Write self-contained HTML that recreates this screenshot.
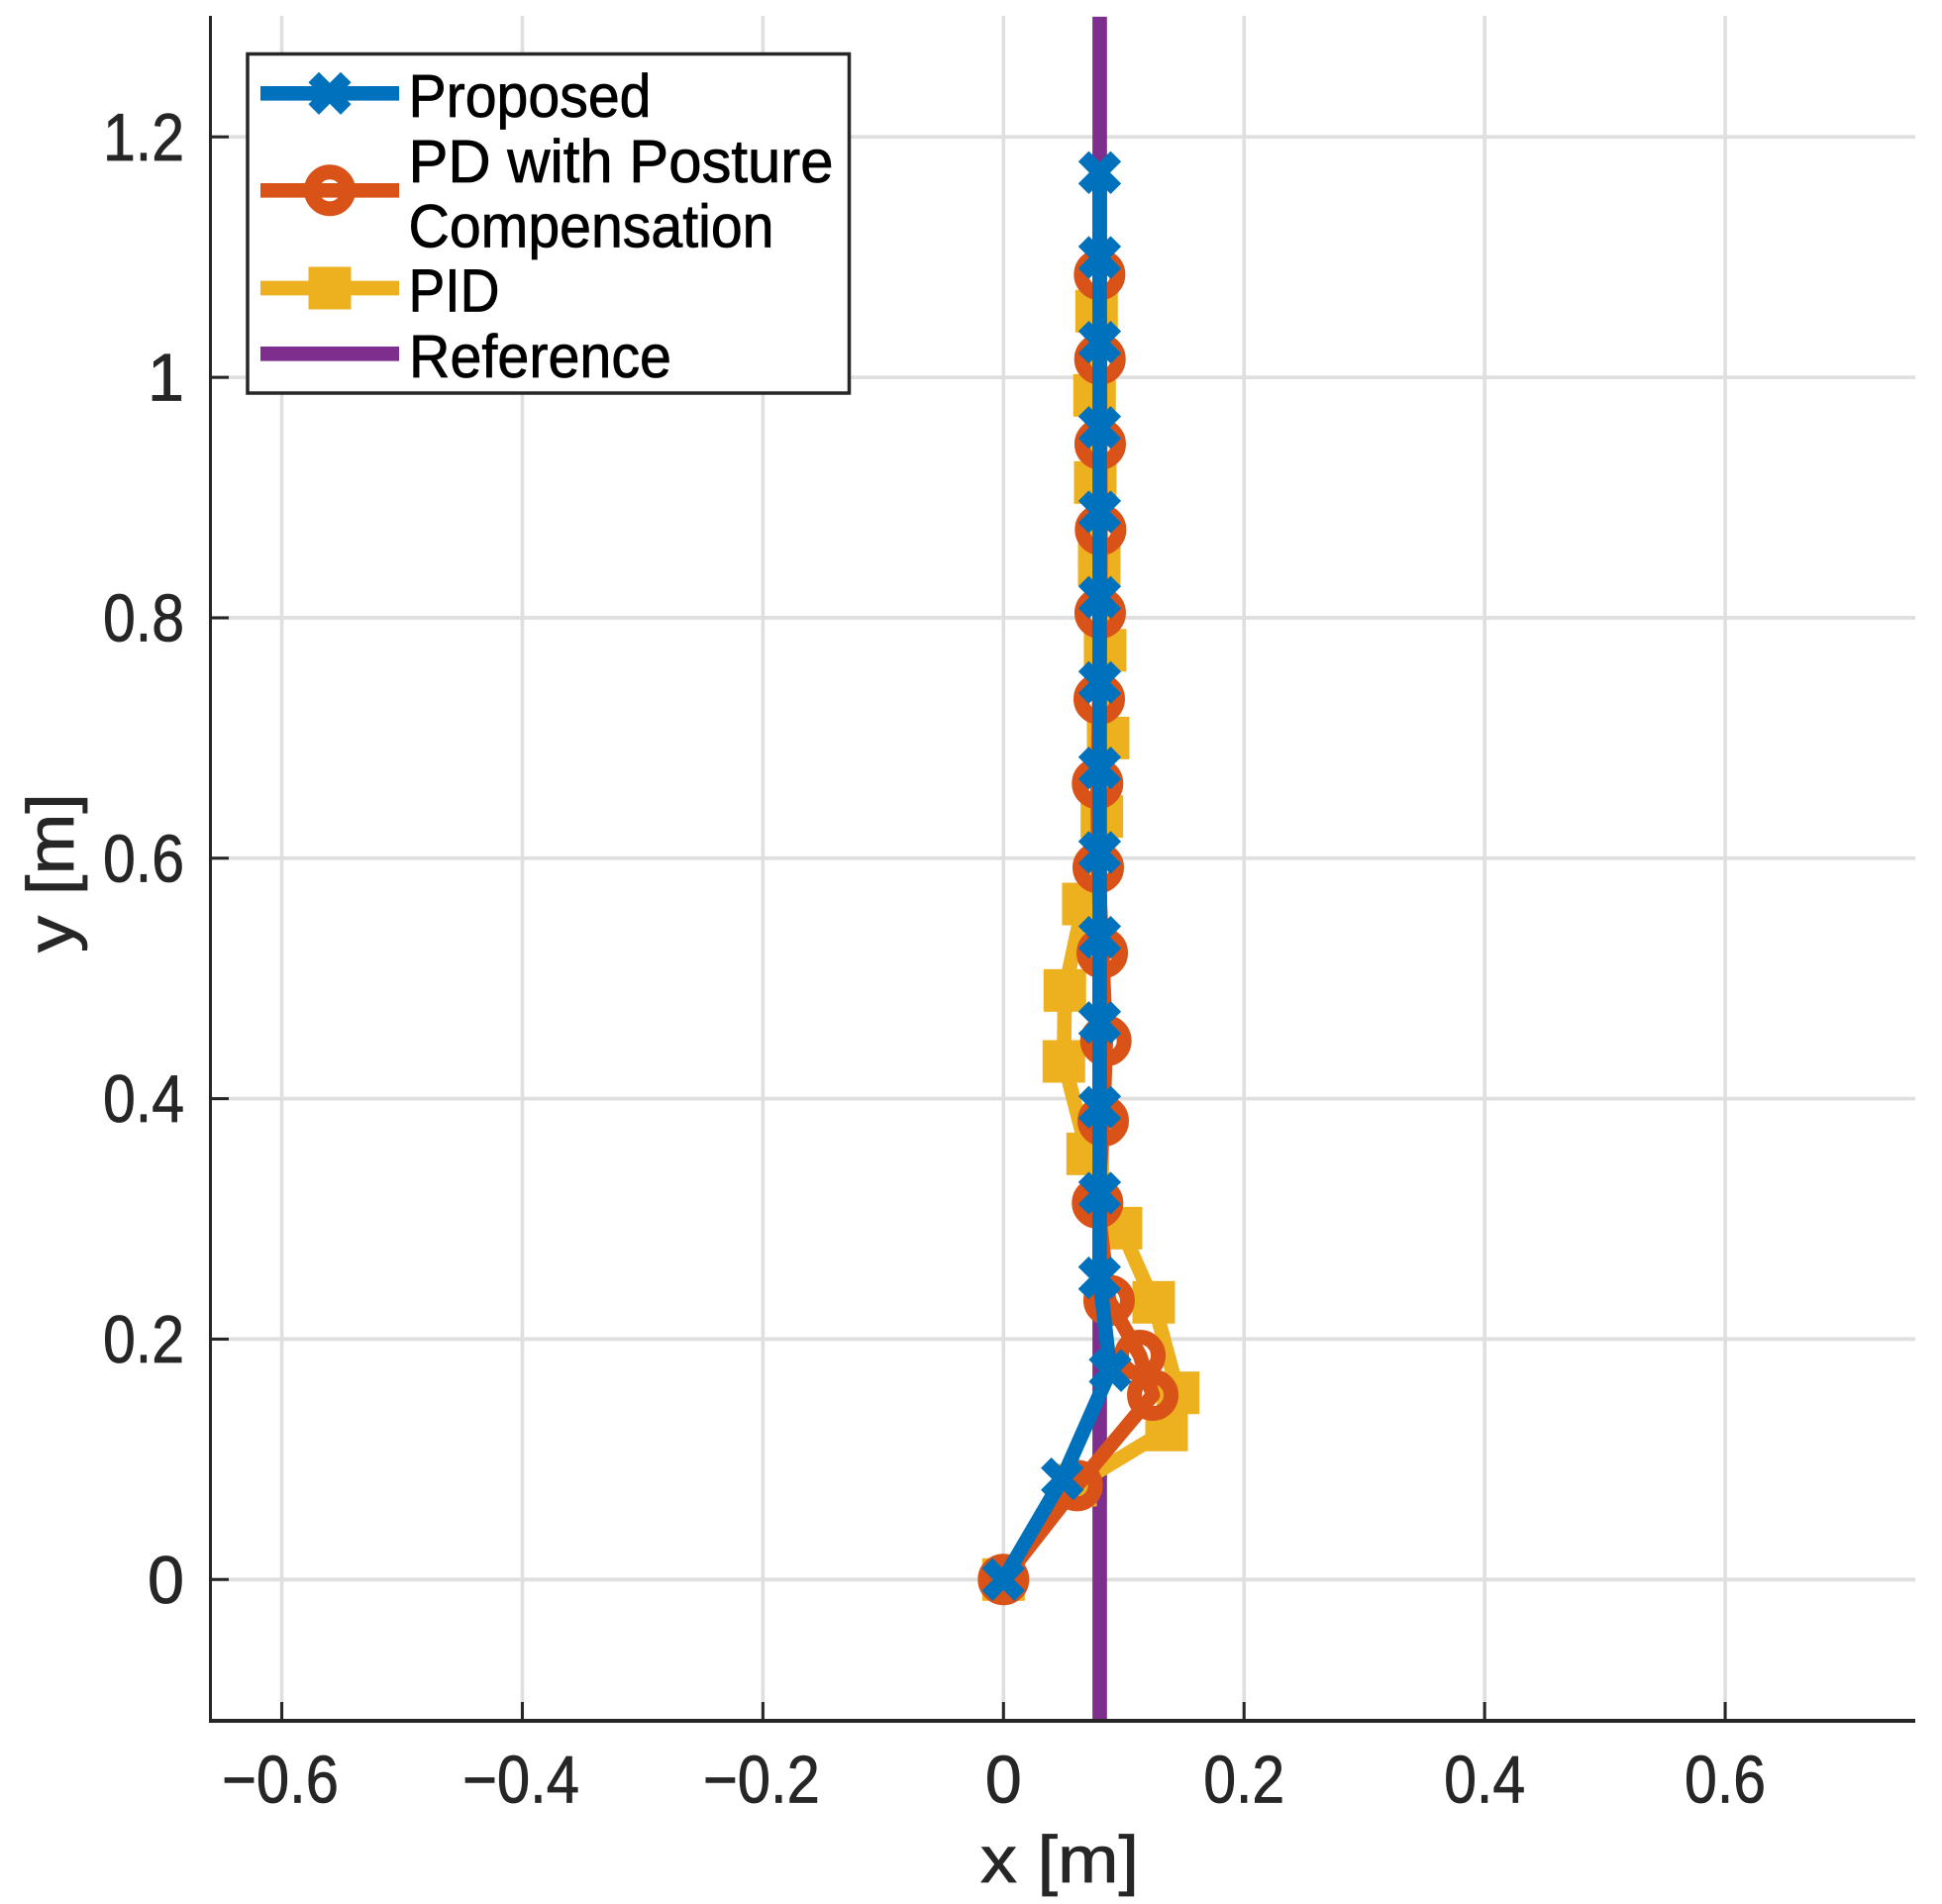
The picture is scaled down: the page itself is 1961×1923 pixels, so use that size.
<!DOCTYPE html>
<html lang="en">
<head>
<meta charset="utf-8">
<title>Trajectory comparison chart</title>
<style>
html,body{margin:0;padding:0;background:#fff;}
svg{display:block;}
text{font-family:"Liberation Sans",sans-serif;}
</style>
</head>
<body>
<svg id="chart" xmlns="http://www.w3.org/2000/svg" width="1961" height="1923" viewBox="0 0 1961 1923">
  <rect x="0" y="0" width="1961" height="1923" fill="#fff"/>
  <g id="grid"></g>
  <g id="series"></g>
  <g id="axes">
    <rect x="211" y="16" width="3" height="1724" fill="#262626"/>
    <rect x="211" y="1736" width="1723" height="4" fill="#262626"/>
  </g>
  <g id="ticks"></g>
  <text x="990" y="1901" font-size="67" fill="#262626" stroke="#262626" stroke-width="0.8" textLength="160" lengthAdjust="spacingAndGlyphs">x [m]</text>
  <text transform="translate(74,962) rotate(-90)" x="0" y="0" font-size="67" fill="#262626" stroke="#262626" stroke-width="0.8" textLength="161" lengthAdjust="spacingAndGlyphs">y [m]</text>
  <g id="legend">
    <rect x="250" y="54.5" width="607.5" height="342.5" fill="#fff" stroke="#262626" stroke-width="3.5"/>
    <g>
      <line x1="263" x2="403" y1="94.3" y2="94.3" stroke="#0072BD" stroke-width="14.7"/>
      <path d="M316.7 78 L349.3 110.6 M349.3 78 L316.7 110.6" stroke="#0072BD" stroke-width="15" fill="none"/>
      <text x="412.5" y="118" font-size="61" fill="#000" stroke="#000" stroke-width="0.8" textLength="245" lengthAdjust="spacingAndGlyphs">Proposed</text>
    </g>
    <g>
      <line x1="263" x2="403" y1="192.3" y2="192.3" stroke="#D95319" stroke-width="14.7"/>
      <circle cx="333" cy="192.3" r="18.5" stroke="#D95319" stroke-width="15" fill="none"/>
      <text x="412.5" y="184" font-size="61" fill="#000" stroke="#000" stroke-width="0.8" textLength="429" lengthAdjust="spacingAndGlyphs">PD with Posture</text>
      <text x="412.5" y="249.5" font-size="61" fill="#000" stroke="#000" stroke-width="0.8" textLength="369" lengthAdjust="spacingAndGlyphs">Compensation</text>
    </g>
    <g>
      <line x1="263" x2="403" y1="291" y2="291" stroke="#EDB120" stroke-width="14.7"/>
      <rect x="311.5" y="269.5" width="43" height="43" fill="#EDB120"/>
      <text x="412.5" y="314.5" font-size="61" fill="#000" stroke="#000" stroke-width="0.8" textLength="92" lengthAdjust="spacingAndGlyphs">PID</text>
    </g>
    <g>
      <line x1="263" x2="403" y1="357.3" y2="357.3" stroke="#7E2F8E" stroke-width="14.7"/>
      <text x="413" y="381" font-size="61" fill="#000" stroke="#000" stroke-width="0.8" textLength="265" lengthAdjust="spacingAndGlyphs">Reference</text>
    </g>
  </g>
</svg>
<script>
const xTicks = [-0.6, -0.4, -0.2, 0, 0.2, 0.4, 0.6];
const yTicks = [0, 0.2, 0.4, 0.6, 0.8, 1, 1.2];
const xTickLabels = ['\u22120.6', '\u22120.4', '\u22120.2', '0', '0.2', '0.4', '0.6'];
const yTickLabels = ['0', '0.2', '0.4', '0.6', '0.8', '1', '1.2'];

const referenceX = [0.08, 0.08];
const referenceY = [-0.12, 1.3];

const proposedX = [0, 0.0489, 0.0887, 0.0799, 0.08, 0.08, 0.08, 0.08, 0.08, 0.08, 0.08, 0.08, 0.08, 0.08, 0.08, 0.08, 0.08];
const proposedY = [0, 0.0837, 0.1738, 0.2509, 0.3214, 0.3929, 0.4633, 0.5342, 0.6048, 0.6750, 0.7462, 0.8170, 0.8881, 0.9583, 1.0292, 1.0997, 1.1703];

const pdX = [0, 0.0612, 0.1241, 0.1134, 0.0878, 0.0782, 0.0829, 0.0851, 0.0821, 0.0788, 0.0782, 0.0796, 0.0804, 0.0807, 0.0804, 0.0802, 0.0799];
const pdY = [0, 0.0782, 0.1534, 0.1864, 0.2322, 0.3132, 0.3815, 0.4482, 0.5213, 0.5922, 0.6622, 0.7325, 0.8040, 0.8733, 0.9445, 1.0152, 1.0855];

const pidX = [0, 0.0599, 0.1356, 0.1452, 0.1249, 0.0977, 0.0700, 0.0502, 0.0510, 0.0664, 0.0818, 0.0870, 0.0845, 0.0796, 0.0763, 0.0757, 0.0774];
const pidY = [0, 0.0785, 0.1244, 0.1553, 0.2306, 0.2923, 0.3541, 0.4310, 0.4900, 0.5619, 0.6347, 0.7000, 0.7730, 0.8444, 0.9125, 0.9850, 1.0550];

const NS = 'http://www.w3.org/2000/svg';
const PLOT_LEFT = 212.5, PLOT_RIGHT = 1934, PLOT_TOP = 16, PLOT_BOTTOM = 1736;
function sx(v) { return 1013.3 + 1214.6 * v; }
function sy(v) { return 1595.3 - 1214.2 * v; }
function clampY(p) { return Math.min(PLOT_BOTTOM, Math.max(PLOT_TOP, p)); }

function make(tag, parent, attrs) {
  const el = document.createElementNS(NS, tag);
  for (const k in attrs) el.setAttribute(k, attrs[k]);
  parent.appendChild(el);
  return el;
}

const gridG = document.getElementById('grid');
const ticksG = document.getElementById('ticks');
const seriesG = document.getElementById('series');

xTicks.forEach(function (t, i) {
  const px = sx(t);
  const g = make('line', gridG, { x1: px, x2: px, y1: PLOT_TOP, y2: PLOT_BOTTOM, stroke: '#dfdfdf', 'stroke-width': 3.6 });
  
  
  const m = make('line', ticksG, { x1: px, x2: px, y1: 1719, y2: 1737, stroke: '#262626', 'stroke-width': 3 });
  
  
  const label = xTickLabels[i];
  const w = label.length === 1 ? 37 : (label.charAt(0) === '\u2212' ? 118 : 82);
  const tx = make('text', ticksG, { x: px + (label.charAt(0) === '\u2212' ? -1.5 : 0), y: 1820.5, 'font-size': 68, fill: '#262626', stroke: '#262626', 'stroke-width': 0.8, 'text-anchor': 'middle', textLength: w, lengthAdjust: 'spacingAndGlyphs' });
  tx.textContent = label;
  
  
});

yTicks.forEach(function (t, i) {
  const py = sy(t);
  const g = make('line', gridG, { x1: PLOT_LEFT, x2: PLOT_RIGHT, y1: py, y2: py, stroke: '#dfdfdf', 'stroke-width': 3.8 });
  
  
  const m = make('line', ticksG, { x1: 212, x2: 231, y1: py, y2: py, stroke: '#262626', 'stroke-width': 3 });
  
  
  const label = yTickLabels[i];
  const w = label.length === 1 ? 37 : 82;
  const tx = make('text', ticksG, { x: 186, y: py + 23.5, 'font-size': 68, fill: '#262626', stroke: '#262626', 'stroke-width': 0.8, 'text-anchor': 'end', textLength: w, lengthAdjust: 'spacingAndGlyphs' });
  tx.textContent = label;
  
  
});

function polyPoints(xs, ys) {
  return xs.map(function (x, i) { return sx(x) + ',' + clampY(sy(ys[i])); }).join(' ');
}

const refLine = make('polyline', seriesG, { points: polyPoints(referenceX, referenceY), fill: 'none', stroke: '#7E2F8E', 'stroke-width': 14.7 });



const pidG = make('g', seriesG, {});


const pidLine = make('polyline', pidG, { points: polyPoints(pidX, pidY), fill: 'none', stroke: '#EDB120', 'stroke-width': 14.7, 'stroke-linejoin': 'round' });


pidX.forEach(function (x, i) {
  const r = make('rect', pidG, { x: sx(x) - 21.5, y: sy(pidY[i]) - 21.5, width: 43, height: 43, fill: '#EDB120' });
  
  
});

const pdG = make('g', seriesG, {});


const pdLine = make('polyline', pdG, { points: polyPoints(pdX, pdY), fill: 'none', stroke: '#D95319', 'stroke-width': 14.7, 'stroke-linejoin': 'round' });


pdX.forEach(function (x, i) {
  const c = make('circle', pdG, { cx: sx(x), cy: sy(pdY[i]), r: 18.5, fill: 'none', stroke: '#D95319', 'stroke-width': 15 });
  
  
});

const propG = make('g', seriesG, {});


const propLine = make('polyline', propG, { points: polyPoints(proposedX, proposedY), fill: 'none', stroke: '#0072BD', 'stroke-width': 14.7, 'stroke-linejoin': 'round' });


proposedX.forEach(function (x, i) {
  const cx = sx(x), cy = sy(proposedY[i]), a = 16.35;
  const d = 'M' + (cx - a) + ' ' + (cy - a) + ' L' + (cx + a) + ' ' + (cy + a) + ' M' + (cx + a) + ' ' + (cy - a) + ' L' + (cx - a) + ' ' + (cy + a);
  const p = make('path', propG, { d: d, fill: 'none', stroke: '#0072BD', 'stroke-width': 15 });
  
  
});
</script>
</body>
</html>
